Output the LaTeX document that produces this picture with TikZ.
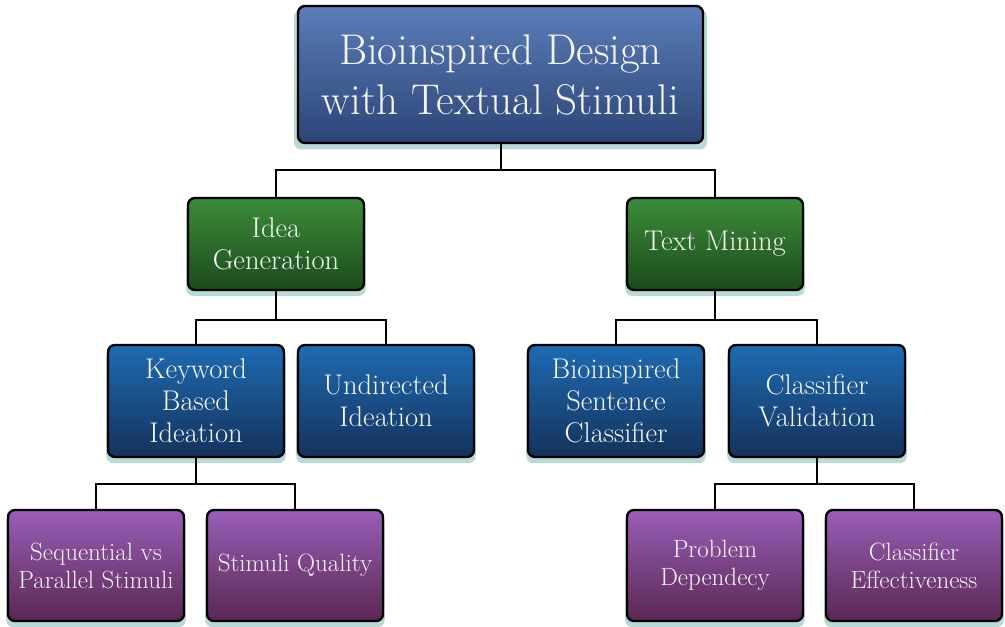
\documentclass[tikz,border=0pt]{standalone}
\usetikzlibrary{shadows}
\definecolor{rootT}{HTML}{5B7DB8}\definecolor{rootB}{HTML}{2C4577}
\definecolor{grnT}{HTML}{3C8C3A}\definecolor{grnB}{HTML}{1C4A1C}
\definecolor{bluT}{HTML}{1E6BB2}\definecolor{bluB}{HTML}{14325C}
\definecolor{purT}{HTML}{9A5EB8}\definecolor{purB}{HTML}{5A2752}
\definecolor{glow}{HTML}{A8D0CC}
\tikzset{
  box/.style={draw=black, line width=2.4pt, rounded corners=7pt, text=white!92!gray, align=center,
    inner sep=0pt, font=\rmfamily,
    drop shadow={shadow xshift=0pt, shadow yshift=-5pt, shadow scale=1.02, fill=glow, opacity=0.8}},
  rootbox/.style={box, minimum width=405pt, minimum height=137pt, top color=rootT, bottom color=rootB, font=\fontsize{43}{50}\selectfont},
  grnbox/.style={box, minimum width=176pt, minimum height=92pt, top color=grnT, bottom color=grnB, font=\fontsize{28.5}{32}\selectfont},
  blubox/.style={box, minimum width=176pt, minimum height=112pt, top color=bluT, bottom color=bluB, font=\fontsize{28.5}{32}\selectfont},
  purbox/.style={box, minimum width=176pt, minimum height=111pt, top color=purT, bottom color=purB, font=\fontsize{25}{28}\selectfont},
  link/.style={draw=black, line width=2pt}
}
\begin{document}
\begin{tikzpicture}[x=1pt,y=-1pt]
\useasboundingbox (0,0) rectangle (1005,627);
\node[rootbox] (root) at (500.5,74.5) {Bioinspired Design\\with Textual Stimuli};
\node[grnbox] (idea) at (276,244) {Idea\\Generation};
\node[grnbox] (tm) at (715,244) {Text Mining};
\node[blubox] (kw) at (196,401) {Keyword\\Based\\Ideation};
\node[blubox] (ud) at (386,401) {Undirected\\Ideation};
\node[blubox] (bs) at (616,401) {Bioinspired\\Sentence\\Classifier};
\node[blubox] (cv) at (817,401) {Classifier\\Validation};
\node[purbox] (sq) at (96,565.5) {Sequential vs\\Parallel Stimuli};
\node[purbox] (qu) at (295,565.5) {Stimuli Quality};
\node[purbox] (pd) at (715,565.5) {Problem\\Dependecy};
\node[purbox] (ce) at (914,565.5) {Classifier\\Effectiveness};
\draw[link] (root.south) -- ++(0,26) -| (idea.north);
\draw[link] (root.south) -- ++(0,26) -| (tm.north);
\draw[link] (idea.south) -- ++(0,29) -| (kw.north);
\draw[link] (idea.south) -- ++(0,29) -| (ud.north);
\draw[link] (tm.south) -- ++(0,29) -| (bs.north);
\draw[link] (tm.south) -- ++(0,29) -| (cv.north);
\draw[link] (kw.south) -- ++(0,26) -| (sq.north);
\draw[link] (kw.south) -- ++(0,26) -| (qu.north);
\draw[link] (cv.south) -- ++(0,26) -| (pd.north);
\draw[link] (cv.south) -- ++(0,26) -| (ce.north);
\end{tikzpicture}
\end{document}
